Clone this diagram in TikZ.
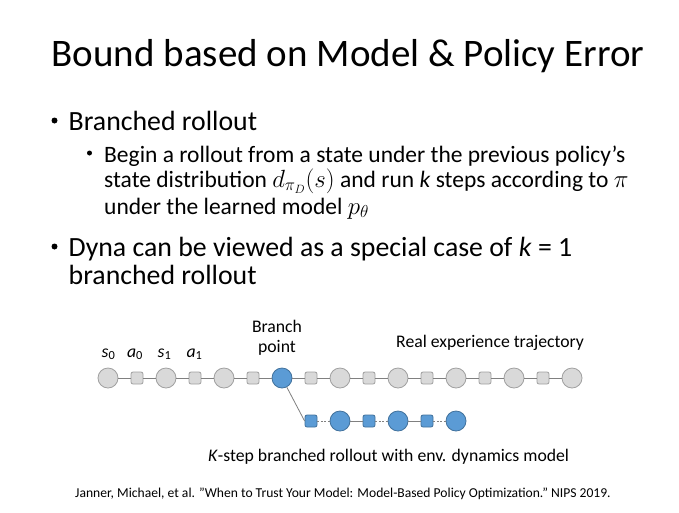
\documentclass[tikz,border=0pt]{standalone}
\usepackage{fontspec}
\setmainfont{Carlito}
\definecolor{gfill}{HTML}{D9D9D9}
\definecolor{gdraw}{HTML}{A0A0A0}
\definecolor{bfill}{HTML}{5B9BD5}
\definecolor{bdraw}{HTML}{41719C}
\definecolor{linkc}{HTML}{808080}
\tikzset{
  txt/.style={inner sep=0pt, anchor=base west, text=black},
  bul/.style={circle, fill=black, inner sep=0pt, minimum size=6pt},
  fone/.style={font=\fontsize{27.8}{33}\selectfont},
  ftwo/.style={font=\fontsize{23.5}{28}\selectfont},
  stc/.style={circle, minimum size=20pt, inner sep=0pt, fill=gfill, draw=gdraw, line width=0.8pt},
  act/.style={rectangle, rounded corners=2pt, minimum size=12pt, inner sep=0pt, fill=gfill, draw=gdraw, line width=0.8pt},
  bstc/.style={stc, fill=bfill, draw=bdraw},
  bact/.style={act, fill=bfill, draw=bdraw},
  link/.style={draw=linkc, line width=0.8pt},
  dlink/.style={draw=linkc, line width=0.8pt, dash pattern=on 2pt off 1.5pt},
  lbl/.style={inner sep=0pt, anchor=base, font=\fontsize{17.7}{21}\selectfont},
}
\newcommand\vsub[2]{\textit{#1}\textsubscript{#2}}
\begin{document}
\begin{tikzpicture}[x=1pt,y=-1pt]
\useasboundingbox[fill=white] (0,0) rectangle (679,512);
% title
\node[txt, font=\fontsize{39}{46}\selectfont] (title) at (51.5,66) {Bound based on Model \& Policy Error};
% bullets
\node[bul] (b1) at (54.5,120.5) {};
\node[txt, fone] (t1) at (68.5,130) {Branched rollout};
\node[bul, minimum size=5pt] (b2) at (89.5,153) {};
\node[txt, ftwo] (t2a) at (104,162) {Begin a rollout from a state under the previous policy’s};
\node[txt, ftwo] (t2b) at (104,187) {state distribution \smash{$d_{\pi_D}(s)$} and run \textit{k} steps according to $\pi$};
\node[txt, ftwo] (t2c) at (104,214) {under the learned model $p_\theta$};
\node[bul] (b3) at (54.5,246.5) {};
\node[txt, fone] (t3a) at (68.5,256) {Dyna can be viewed as a special case of \textit{k} = 1};
\node[txt, fone] (t3b) at (68.5,284) {branched rollout};
% main trajectory
\foreach \i/\x in {1/108,2/166,3/224,5/340,6/398,7/456,8/514,9/572}
  \node[stc] (c\i) at (\x,378) {};
\node[bstc] (c4) at (282,378) {};
\foreach \i/\x in {1/137,2/195,3/253,4/311,5/369,6/427,7/485,8/543}
  \node[act] (q\i) at (\x,378) {};
\foreach \i [evaluate=\i as \j using int(\i+1)] in {1,...,8}
  \draw[link] (c\i) -- (q\i) (q\i) -- (c\j);
% branched rollout
\foreach \i/\x in {1/311,2/369,3/427}
  \node[bact] (r\i) at (\x,421) {};
\foreach \i/\x in {1/340,2/398,3/456}
  \node[bstc] (d\i) at (\x,421) {};
\draw[link] (c4) -- (r1.west);
\draw[dlink] (r1) -- (d1);
\draw[link] (d1) -- (r2);
\draw[dlink] (r2) -- (d2);
\draw[link] (d2) -- (r3);
\draw[dlink] (r3) -- (d3);
% labels
\node[lbl] (ls0) at (108.5,357) {\vsub{s}{0}};
\node[lbl] (la0) at (135,357) {\vsub{a}{0}};
\node[lbl] (ls1) at (164.5,357) {\vsub{s}{1}};
\node[lbl] (la1) at (194.5,357) {\vsub{a}{1}};
\node[lbl] (lbr) at (277,332) {Branch};
\node[lbl] (lpt) at (277,352.5) {point};
\node[lbl, anchor=base west] (lreal) at (396,347) {Real experience trajectory};
\node[lbl, anchor=base west] (lk) at (208,461) {\textit{K}-step branched rollout with env. dynamics model};
\node[txt, font=\fontsize{13.6}{16}\selectfont] (cite) at (75,497) {Janner, Michael, et al. "When to Trust Your Model: Model-Based Policy Optimization." NIPS 2019.};
\end{tikzpicture}
\end{document}
